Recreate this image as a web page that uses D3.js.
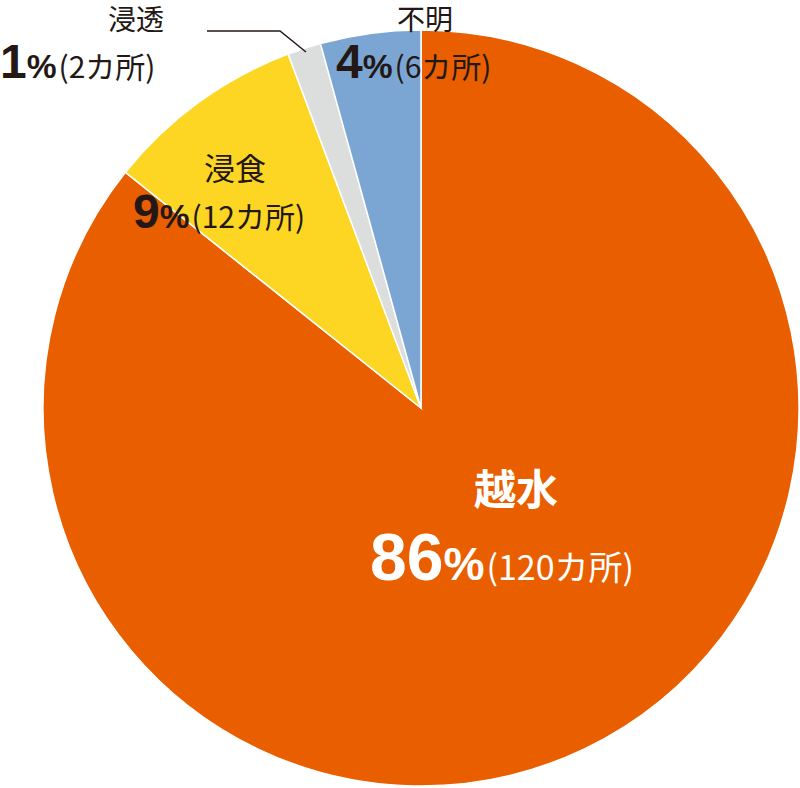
<!DOCTYPE html>
<html lang="ja">
<head>
<meta charset="utf-8">
<script src="https://d3js.org/d3.v7.min.js"></script>
<style>
  body { margin: 0; background: #fff; }
  text { font-family: "Noto Sans CJK JP", sans-serif; }
</style>
</head>
<body>
<svg id="chart" width="800" height="788"></svg>
<script>
// data
const names = ["越水", "浸食", "浸透", "不明"];
const counts = [120, 12, 2, 6];
const percents = [86, 9, 1, 4];
const colors = ["#e95f00", "#fcd623", "#dcdddd", "#7ba6d3"];

const svg = d3.select("#chart");
const cx = 421, cy = 408, r = 378;

const pie = d3.pie().sort(null).value(d => d.count);
const arc = d3.arc().innerRadius(0).outerRadius(r);
const data = names.map((n, i) => ({name: n, count: counts[i], pct: percents[i], color: colors[i]}));

svg.append("g")
    .attr("transform", `translate(${cx},${cy})`)
    .selectAll("path")
    .data(pie(data))
    .enter()
    .append("path")
    .attr("d", arc)
    .attr("fill", d => d.data.color)
    .attr("stroke", "#fff")
    .attr("stroke-width", 1.5);

// leader line for 浸透
svg.append("polyline")
    .attr("points", "207,31 280,31 306,52")
    .attr("fill", "none")
    .attr("stroke", "#231815")
    .attr("stroke-width", 1.5);

// label helper: name on top line, pct + count below
function label(d, o) {
    const fill = o.fill;
    svg.append("text")
        .attr("x", o.nx).attr("y", o.ny)
        .attr("font-size", o.ns).attr("font-weight", o.nameBold ? 700 : 400)
        .attr("fill", fill).text(d.name);
    const t = svg.append("text").attr("x", o.px).attr("y", o.py).attr("fill", fill);
    t.append("tspan").attr("font-size", o.ps).attr("font-weight", 700)
        .attr("font-family", "Liberation Sans, Arial, sans-serif").text(d.pct);
    t.append("tspan").attr("font-size", o.ps * 0.7).attr("font-weight", 700)
        .attr("font-family", "Liberation Sans, Arial, sans-serif").text("%");
    t.append("tspan").attr("font-size", o.cs).attr("font-weight", 400)
        .attr("dx", 2).text("(" + d.count + "カ所)");
}

label(data[0], {fill: "#fff", nx: 474, ny: 505, ns: 42, nameBold: true,
    px: 370, py: 580, ps: 66, cs: 34});
label(data[1], {fill: "#231815", nx: 204, ny: 180, ns: 31,
    px: 133, py: 228, ps: 48, cs: 30});
label(data[2], {fill: "#231815", nx: 108, ny: 30, ns: 28,
    px: 0, py: 78, ps: 48, cs: 30});
label(data[3], {fill: "#231815", nx: 397, ny: 30, ns: 28,
    px: 336, py: 78, ps: 48, cs: 30});
</script>
</body>
</html>
